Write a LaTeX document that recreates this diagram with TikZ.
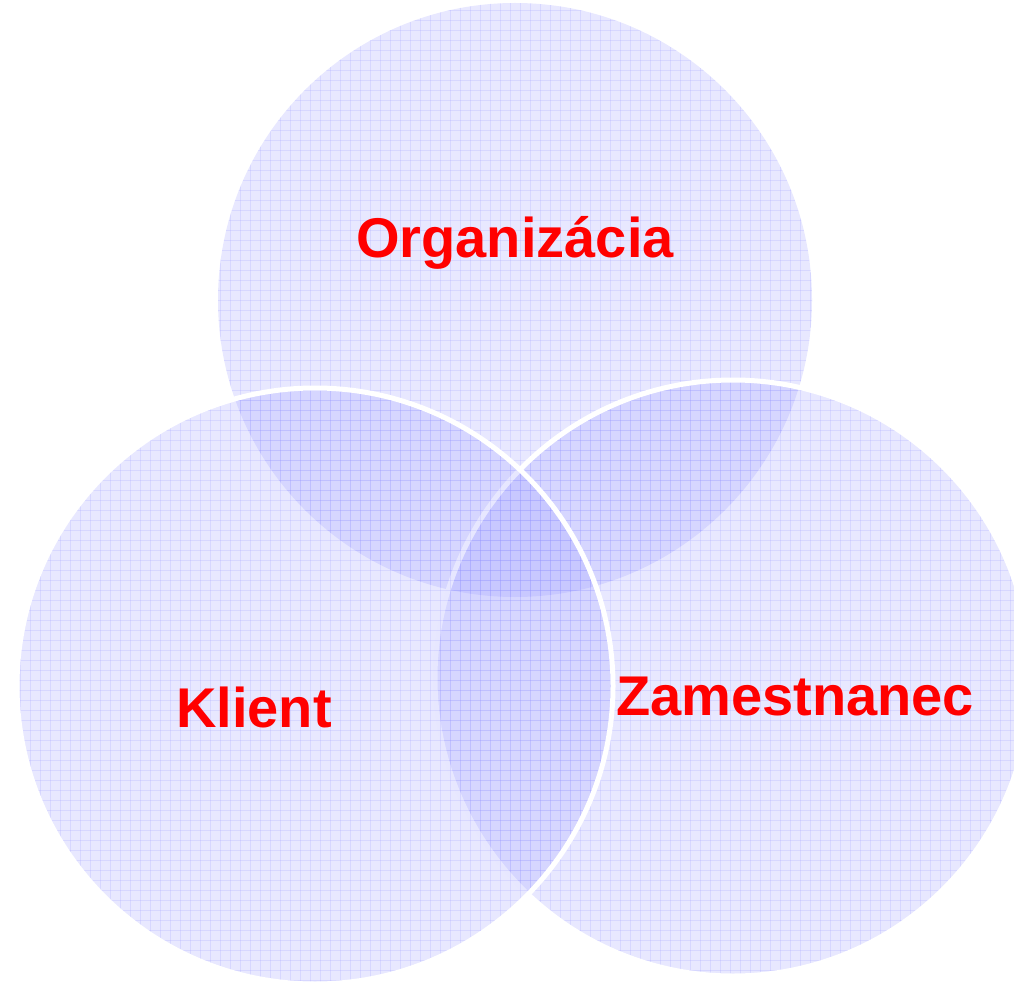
\documentclass[tikz,border=0pt]{standalone}
\usepackage{fontspec}
\setmainfont{Liberation Sans}
\begin{document}
\begin{tikzpicture}[x=1pt,y=-1pt,
  venn/.style={fill={rgb,255:red,150;green,150;blue,255}, fill opacity=0.22},
  vennline/.style={draw=white, line width=5pt},
  gridlines/.style={draw={rgb,255:red,150;green,150;blue,255}, draw opacity=0.2, line width=0.8pt},
  label/.style={text={rgb,255:red,255;green,0;blue,0}, font=\fontsize{56}{60}\selectfont\bfseries, inner sep=0pt}]
\useasboundingbox (0,0) rectangle (1014,984);
\newcommand{\venngrid}{%
  \foreach \k in {0,10,...,1020} {\draw[gridlines] (\k,0) -- (\k,990);}%
  \foreach \k in {0,10,...,990} {\draw[gridlines] (0,\k) -- (1020,\k);}%
}
% Organizacia
\fill[venn] (515,300) circle (297);
\begin{scope}
\clip (515,300) circle (297);
\venngrid
\end{scope}
% Zamestnanec
\fill[venn] (733,678) circle (298);
\begin{scope}
\clip (733,678) circle (298);
\venngrid
\end{scope}
\draw[vennline] (733,678) circle (298);
% Klient
\fill[venn] (315,686) circle (298);
\begin{scope}
\clip (315,686) circle (298);
\venngrid
\end{scope}
\draw[vennline] (315,686) circle (298);
\node[label] (org) at (515,243) {Organizácia};
\node[label] (kli) at (254,707) {Klient};
\node[label] (zam) at (795,697) {Zamestnanec};
\end{tikzpicture}
\end{document}
